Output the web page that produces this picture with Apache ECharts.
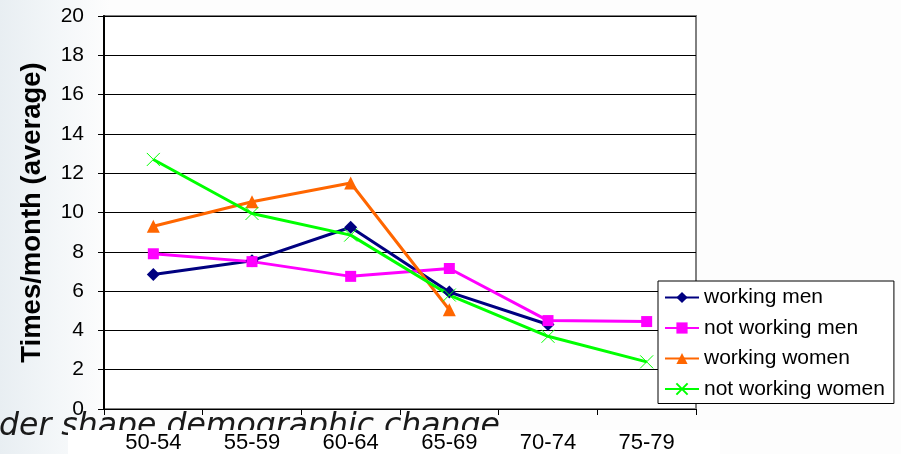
<!DOCTYPE html>
<html>
<head>
<meta charset="utf-8">
<script src="https://cdn.jsdelivr.net/npm/echarts@6/dist/echarts.min.js"></script>
<style>
    html, body { margin: 0; padding: 0; }
    body { background: linear-gradient(to right, #e8eef2 0px, #f4f7f9 60px, #fdfdfd 110px, #fdfdfd 100%); }
    #chart { width: 901px; height: 454px; }
</style>
</head>
<body>
<div id="chart"></div>
<script>
// 年龄组
var ageGroups = ['50-54', '55-59', '60-64', '65-69', '70-74', '75-79'];

// 各组数据 (次/月)
var workingMen = [6.85, 7.55, 9.25, 5.95, 4.3, null];
var notWorkingMen = [7.9, 7.5, 6.75, 7.15, 4.5, 4.45];
var workingWomen = [9.3, 10.55, 11.5, 5.05, null, null];
var notWorkingWomen = [12.7, 9.95, 8.85, 5.8, 3.7, 2.4];

var seriesNames = ['working men', 'not working men', 'working women', 'not working women'];

initChart()

function lineSeries(name, data, color, symbol, size) {
    return {
        name: name,
        type: 'line',
        data: data,
        symbol: symbol,
        symbolSize: size,
        showAllSymbol: true,
        connectNulls: false,
        lineStyle: { color: color, width: 3 },
        itemStyle: { color: color, borderColor: color, borderWidth: symbol.indexOf('path') === 0 ? 1 : 0 },
        emphasis: { disabled: true }
    };
}

function initChart() {
    var myChart = echarts.init(document.getElementById('chart'), null, { renderer: 'canvas' });
    var font = 'Liberation Sans';
    var option = {
        animation: false,
        grid: {
            left: 104,
            right: 205,
            top: 16,
            bottom: 44,
            show: true,
            backgroundColor: '#fff',
            borderColor: '#808080',
            borderWidth: 2
        },
        legend: {
            data: seriesNames,
            orient: 'vertical',
            left: 658,
            top: 281,
            padding: [6, 9, 4, 6],
            itemGap: 9.5,
            itemWidth: 34,
            itemHeight: 14,
            backgroundColor: '#fff',
            borderColor: '#000',
            borderWidth: 1,
            borderRadius: 0,
            textStyle: { fontFamily: font, fontSize: 21, color: '#000' }
        },
        xAxis: {
            type: 'category',
            data: ageGroups,
            boundaryGap: true,
            axisLine: { lineStyle: { color: '#000', width: 1 } },
            axisTick: { show: true, inside: false, length: 6, lineStyle: { color: '#000' } },
            axisLabel: { margin: 23, fontFamily: font, fontSize: 22, color: '#000' },
            splitLine: { show: false }
        },
        yAxis: {
            type: 'value',
            min: 0,
            max: 20,
            interval: 2,
            name: 'Times/month (average)',
            nameLocation: 'middle',
            nameRotate: 90,
            nameGap: 58,
            nameTextStyle: { fontFamily: font, fontSize: 27.5, fontWeight: 'bold', color: '#000' },
            axisLine: { show: true, lineStyle: { color: '#000', width: 2 } },
            axisTick: { show: true, inside: false, length: 6, lineStyle: { color: '#000' } },
            axisLabel: { margin: 20, fontFamily: font, fontSize: 21, color: '#000' },
            splitLine: { show: true, lineStyle: { color: '#000', width: 1 } }
        },
        graphic: [{
            // 幻灯片背景文字
            type: 'text',
            left: -1,
            top: 411,
            z: -2,
            style: {
                text: 'der shape demographic change',
                font: 'italic 31.5px "DejaVu Sans"',
                fill: '#1a1a1a'
            }
        }, {
            type: 'rect',
            left: 68,
            top: 430,
            z: -1,
            shape: { width: 652, height: 30 },
            style: { fill: '#fff' }
        }],
        series: [
            lineSeries(seriesNames[0], workingMen, '#000080', 'diamond', 13),
            lineSeries(seriesNames[1], notWorkingMen, '#ff00ff', 'rect', 11),
            lineSeries(seriesNames[2], workingWomen, '#ff6600', 'triangle', 13),
            lineSeries(seriesNames[3], notWorkingWomen, '#00ff00', 'path://M0,0L12,12M12,0L0,12', 13)
        ]
    };

    myChart.setOption(option);
}
</script>
</body>
</html>
